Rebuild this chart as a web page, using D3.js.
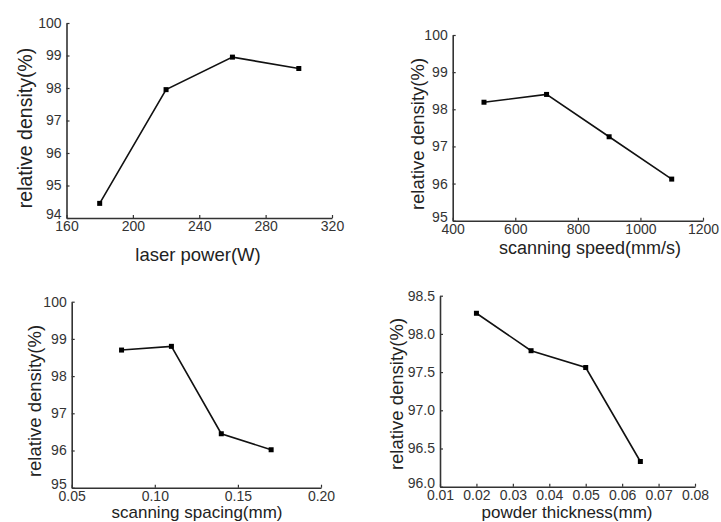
<!DOCTYPE html>
<html>
<head>
<meta charset="utf-8">
<script src="https://cdn.jsdelivr.net/npm/d3@7"></script>
<style>
  body { margin: 0; background: #fff; }
  svg { display: block; font-family: "Liberation Sans", Arial, sans-serif; }
</style>
</head>
<body>
<svg id="chart" width="721" height="522"></svg>
<script>
// data
const powerX = [180, 220, 260, 300];
const powerY = [94.45, 97.95, 98.95, 98.6];
const speedX = [500, 700, 900, 1100];
const speedY = [98.19, 98.4, 97.26, 96.12];
const spacingX = [0.08, 0.11, 0.14, 0.17];
const spacingY = [98.7, 98.8, 96.45, 96.02];
const thickX = [0.02, 0.035, 0.05, 0.065];
const thickY = [98.27, 97.78, 97.56, 96.33];

// tick labels
const powerTicks = [160, 200, 240, 280, 320];
const speedTicks = [400, 600, 800, 1000, 1200];
const spacingTicks = [0.05, 0.10, 0.15, 0.20];
const thickTicks = [0.01, 0.02, 0.03, 0.04, 0.05, 0.06, 0.07, 0.08];
const densTicks6 = [94, 95, 96, 97, 98, 99, 100];
const densTicks5 = [95, 96, 97, 98, 99, 100];
const densTicksHalf = [96.0, 96.5, 97.0, 97.5, 98.0, 98.5];

const svg = d3.select('#chart');

function drawPanel(p) {
  const x = d3.scaleLinear().domain(p.xDomain).range([p.left, p.right]);
  const y = d3.scaleLinear().domain(p.yDomain).range([p.bottom, p.top]);
  const g = svg.append('g');

  // bottom axis, ticks pointing inward
  const xAxis = d3.axisBottom(x).tickValues(p.xTicks).tickFormat(p.xFmt)
    .tickSizeInner(-3).tickSizeOuter(0).tickPadding(3);
  const gx = g.append('g').attr('transform', `translate(0,${p.bottom})`).call(xAxis);

  const yAxis = d3.axisLeft(y).tickValues(p.yTicks).tickFormat(p.yFmt)
    .tickSizeInner(-3).tickSizeOuter(0).tickPadding(5);
  const gy = g.append('g').attr('transform', `translate(${p.left},0)`).call(yAxis);

  [gx, gy].forEach(a => {
    a.select('.domain').attr('stroke', '#333').attr('stroke-width', 1.6);
    a.selectAll('.tick line').attr('stroke', '#333').attr('stroke-width', 1.2);
    a.selectAll('.tick text').attr('font-size', 14).attr('fill', '#333')
      .attr('font-family', '"Liberation Sans", Arial, sans-serif');
  });
  // lowest y label sits a bit above the corner, like the original
  gy.selectAll('.tick text').filter((d, i) => i === 0).attr('y', -4);

  // line + square markers
  const pts = p.xs.map((v, i) => [v, p.ys[i]]);
  g.append('path')
    .attr('d', d3.line().x(d => x(d[0])).y(d => y(d[1]))(pts))
    .attr('fill', 'none').attr('stroke', '#111').attr('stroke-width', 1.6);
  g.selectAll('rect.pt').data(pts).enter().append('rect')
    .attr('class', 'pt')
    .attr('x', d => x(d[0]) - 2.5).attr('y', d => y(d[1]) - 2.5)
    .attr('width', 5).attr('height', 5).attr('fill', '#000');

  g.append('text')
    .attr('x', p.xLabel[1]).attr('y', p.xLabel[2])
    .attr('text-anchor', 'middle').attr('font-size', p.xLabel[3]).attr('fill', '#222')
    .text(p.xLabel[0]);
  g.append('text')
    .attr('transform', `translate(${p.yLabel[0]},${p.yLabel[1]}) rotate(-90)`)
    .attr('text-anchor', 'middle').attr('dy', '0.35em')
    .attr('font-size', p.yLabel[2]).attr('fill', '#222')
    .text('relative density(%)');
}

const f0 = d3.format('d');
const f2 = d3.format('.2f');
const f1 = d3.format('.1f');

drawPanel({ xs: powerX, ys: powerY, xDomain: [160, 320], yDomain: [94, 100],
  xTicks: powerTicks, yTicks: densTicks6, xFmt: f0, yFmt: f0,
  left: 66.5, right: 332, top: 23, bottom: 218,
  xLabel: ['laser power(W)', 198, 261, 18.5], yLabel: [25, 128, 19.5] });

drawPanel({ xs: speedX, ys: speedY, xDomain: [400, 1200], yDomain: [95, 100],
  xTicks: speedTicks, yTicks: densTicks5, xFmt: f0, yFmt: f0,
  left: 452.7, right: 703, top: 35, bottom: 220.7,
  xLabel: ['scanning speed(mm/s)', 590, 254, 18], yLabel: [418, 134, 18.5] });

drawPanel({ xs: spacingX, ys: spacingY, xDomain: [0.05, 0.20], yDomain: [95, 100],
  xTicks: spacingTicks, yTicks: densTicks5, xFmt: f2, yFmt: f0,
  left: 71.7, right: 321, top: 301.7, bottom: 487.7,
  xLabel: ['scanning spacing(mm)', 197, 518, 17], yLabel: [35, 401, 18.5] });

drawPanel({ xs: thickX, ys: thickY, xDomain: [0.01, 0.08], yDomain: [96, 98.5],
  xTicks: thickTicks, yTicks: densTicksHalf, xFmt: f2, yFmt: f1,
  left: 440, right: 695, top: 295.7, bottom: 486.7,
  xLabel: ['powder thickness(mm)', 567, 518, 17], yLabel: [397, 394, 18.5] });
</script>
</body>
</html>
